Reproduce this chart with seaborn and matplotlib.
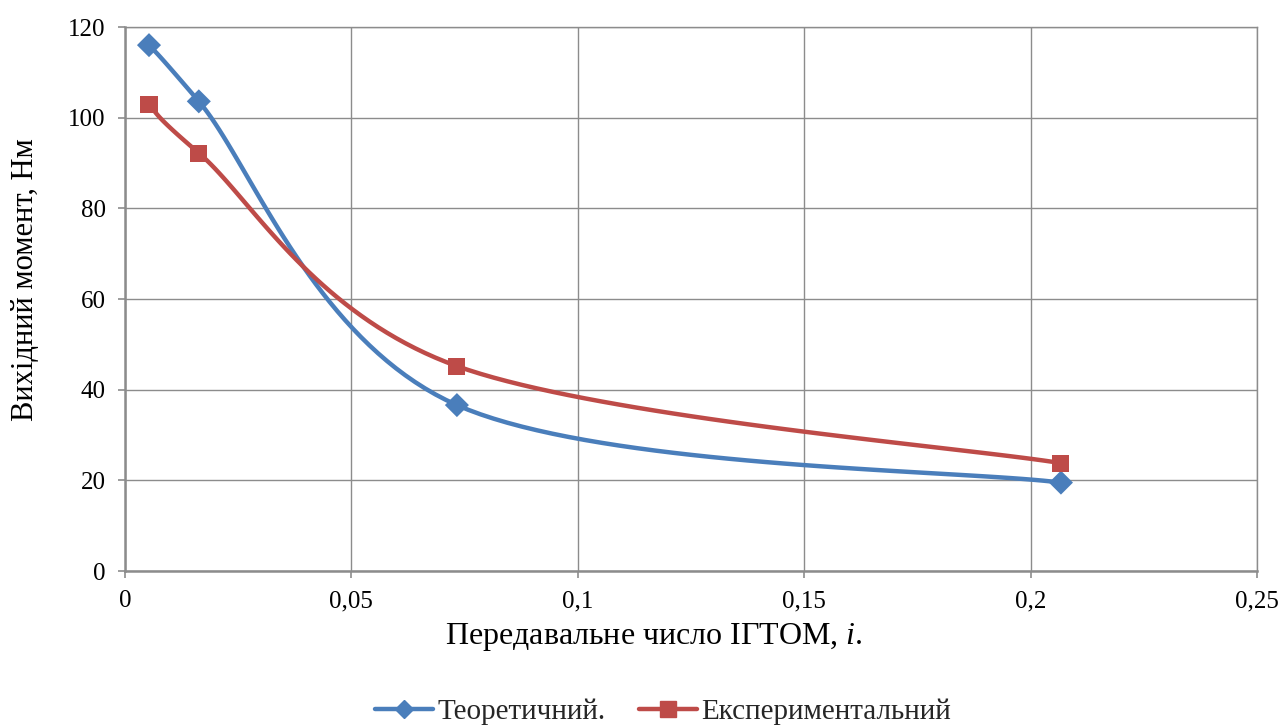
import numpy as np
import pandas as pd
import seaborn as sns
import matplotlib
matplotlib.use("Agg")
import matplotlib.pyplot as plt
from matplotlib.lines import Line2D
from matplotlib.ticker import FuncFormatter, MultipleLocator

x_vals = [0.0053, 0.0163, 0.0733, 0.2067]
theor = [116.0, 103.6, 36.6, 19.5]
exper = [103.0, 92.2, 45.2, 23.8]
series_names = ["Теоретичний.", "Експериментальний"]
colors = ["#4a7ebb", "#be4b48"]
markers = ["D", "s"]

sns.set_theme(style="whitegrid")
plt.rcParams['font.family'] = ['Liberation Serif', 'DejaVu Serif']
plt.rcParams['mathtext.fontset'] = 'custom'
plt.rcParams['mathtext.rm'] = 'Liberation Serif'
plt.rcParams['mathtext.it'] = 'Liberation Serif:italic'


def excel_smooth(xs, ys, n=40):
    P = np.column_stack([xs, ys]).astype(float)
    out = []
    for i in range(len(P) - 1):
        p0 = P[i - 1] if i > 0 else P[i]
        p1 = P[i]
        p2 = P[i + 1]
        p3 = P[i + 2] if i + 2 < len(P) else P[i + 1]
        c1 = p1 + (p2 - p0) / 6.0
        c2 = p2 - (p3 - p1) / 6.0
        t = np.linspace(0, 1, n)[:, None]
        seg = ((1 - t) ** 3) * p1 + 3 * ((1 - t) ** 2) * t * c1 + 3 * (1 - t) * t ** 2 * c2 + t ** 3 * p2
        out.append(seg if i == 0 else seg[1:])
    return np.vstack(out)


W, H = 1280, 726
fig = plt.figure(figsize=(W / 100, H / 100), dpi=100)
ax = fig.add_axes([125 / W, 1 - 571 / H, (1257 - 125) / W, (571 - 27) / H])

df = pd.DataFrame({
    "x": x_vals * 2,
    "y": theor + exper,
    "s": [series_names[0]] * 4 + [series_names[1]] * 4,
})

for name, ys, c in zip(series_names, [theor, exper], colors):
    curve = excel_smooth(x_vals, ys)
    ax.plot(curve[:, 0], curve[:, 1], color=c, lw=3.2, solid_capstyle='round', zorder=3)

sns.scatterplot(data=df, x="x", y="y", hue="s", style="s", palette=colors,
                markers=markers, s=150, edgecolor="none", ax=ax,
                legend=False, zorder=4)

ax.set_xlim(0, 0.25)
ax.set_ylim(0, 120)
ax.xaxis.set_major_locator(MultipleLocator(0.05))
ax.yaxis.set_major_locator(MultipleLocator(20))
fmt = FuncFormatter(lambda v, p: ("%g" % round(v, 4)).replace(".", ","))
ax.xaxis.set_major_formatter(fmt)
ax.grid(True, color="#8c8c8c", lw=1.0)
ax.set_facecolor("white")
for sp in ["top", "right"]:
    ax.spines[sp].set_visible(True)
    ax.spines[sp].set_color("#8c8c8c")
    ax.spines[sp].set_linewidth(1.0)
for sp in ["left", "bottom"]:
    ax.spines[sp].set_visible(True)
    ax.spines[sp].set_color("#8c8c8c")
    ax.spines[sp].set_linewidth(1.8)
ax.tick_params(axis="both", which="major", length=5, width=1.2, color="#8c8c8c",
               labelsize=18, labelcolor="black", direction="out", pad=9)
ax.tick_params(axis="x", bottom=True)
ax.tick_params(axis="y", left=True)
ax.set_xlabel("")
ax.set_ylabel("")

fig.text(654 / W, 1 - 637 / H, "Передавальне число ІГТОМ, $\\it{i}$.",
         fontsize=23, ha="center", va="center", color="black")
fig.text(26 / W, 1 - 280 / H, "Вихідний момент, Нм", fontsize=22, rotation=90,
         ha="center", va="center", color="black")

handles = [Line2D([0], [0], color=c, lw=3.2, marker=m, markersize=12 if m == "s" else 9,
                  markeredgecolor=c) for c, m in zip(colors, markers)]
fig.legend(handles, series_names, loc="center", bbox_to_anchor=(663 / W, 1 - 712 / H),
           ncol=2, frameon=False, fontsize=21, handlelength=2.0, handletextpad=0.15,
           columnspacing=1.15, borderpad=0.2)

fig.savefig("out.png", dpi=100, facecolor="white")
